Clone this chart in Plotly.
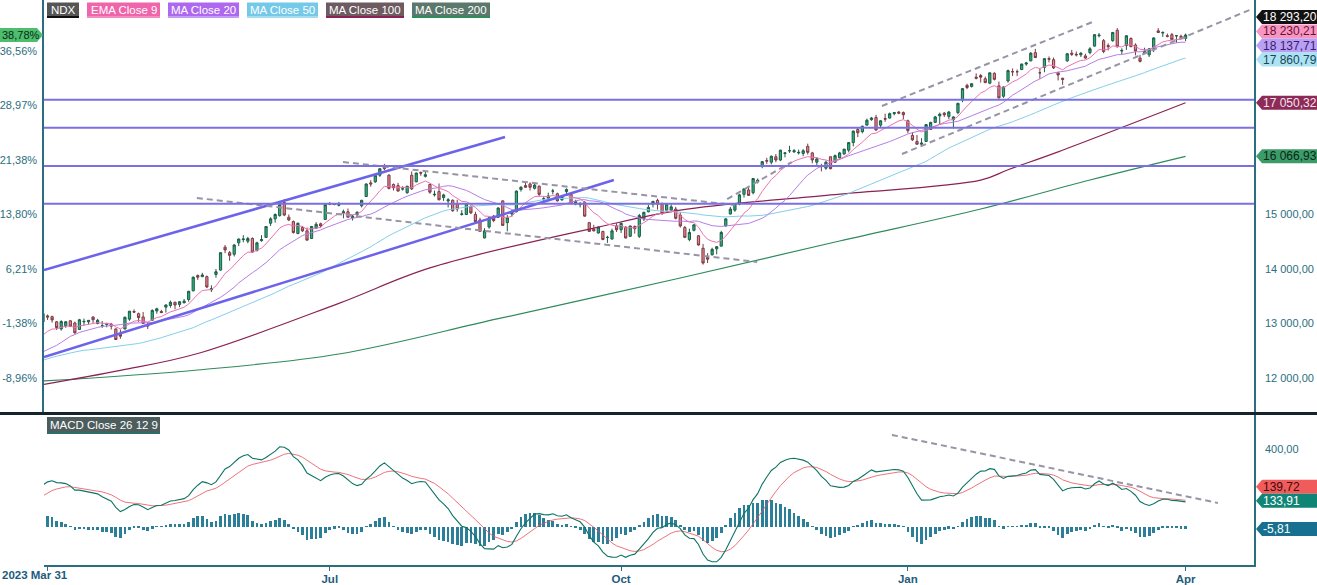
import numpy as np
import pandas as pd
import plotly.graph_objects as go

# NDX daily candles as shown (2023-03-31 .. 2024-04-01)
opens = [
    13030,
    13140, 13126, 13030, 12900, 12960, 13050, 13010, 12890, 13030, 13030, 13120, 13000, 12960, 12980, 12990, 12900, 12800, 12900, 13080,
    13220, 13180, 13120, 12980, 13060, 13230, 13220, 13300, 13330, 13390, 13350, 13380, 13440, 13600, 13880, 13860, 13860, 13620, 13900, 13980, 14400, 14300,
    14270, 14480, 14540, 14510, 14560, 14340, 14520, 14580, 14840, 14920, 14980, 15220, 14950, 14870, 14650, 14760, 14700, 14560, 14750, 14830, 14910,
    15200, 15190, 15170, 15030, 15050, 14940, 15000, 15160, 15330, 15580, 15600, 15720, 15880, 15720, 15550, 15530, 15470, 15400, 15720, 15600, 15770,
    15700, 15550, 15360, 15420, 15310, 15250, 15260, 15190, 15000, 15000, 15150, 15000, 14900, 14570, 14770, 14970, 14950, 15250, 14850, 15010, 15050, 15460, 15530,
    15560, 15480, 15520, 15280, 15300, 15430, 15380, 15270, 15420, 15370, 15190, 15180, 15220, 14850, 14730, 14660, 14690, 14580, 14550, 14790,
    14720, 14770, 14600, 14780, 14600, 14920, 15050, 15190, 15260, 15200, 15080, 15080, 15100, 14990, 14760, 14540, 14710, 14610, 14380, 14210, 14260, 14370,
    14420, 14790, 15010, 15080, 15190, 15370, 15450, 15400, 15600, 15880, 15990, 15960, 16060, 16000, 16120, 16170, 16150, 16130, 16120, 16250, 16130,
    15960, 15880, 15850, 16060, 15960, 16040, 16110, 16180, 16320, 16560, 16520, 16640, 16740, 16780, 16640, 16760, 16770, 16850, 16880, 16870,
    16720, 16450, 16340, 16290, 16340, 16560, 16690, 16810, 16860, 16800, 16740, 16870, 17100, 17370, 17350, 17520, 17550, 17490, 17410, 17590, 17360,
    17170, 17450, 17620, 17620, 17660, 17760, 17820, 17970, 17600, 17700, 17860, 17840, 17600, 17500, 17820, 17960, 17940, 17930, 17910, 17970,
    18090, 18280, 18190, 18100, 18190, 18380, 18000, 18100, 18230, 18110, 17870, 17960, 17930, 18040, 18370, 18330, 18280, 18300, 18280, 18270,
    18230,
]
highs = [
    13211,
    13165, 13144, 13045, 13060, 13040, 13060, 13035, 13085, 13090, 13065, 13130, 13085, 13045, 13010, 13010, 12910, 12890, 13130, 13230,
    13260, 13200, 13210, 13020, 13260, 13290, 13250, 13350, 13420, 13400, 13410, 13450, 13600, 13860, 13900, 13930, 13880, 13700, 14000, 14300, 14440, 14330,
    14460, 14560, 14620, 14590, 14580, 14500, 14620, 14780, 14950, 15020, 15200, 15280, 15000, 14890, 14850, 14790, 14760, 14790, 14860, 14850, 15200,
    15230, 15210, 15230, 15090, 15110, 14990, 15060, 15270, 15570, 15630, 15720, 15850, 15930, 15740, 15570, 15580, 15520, 15520, 15790, 15770, 15790,
    15780, 15560, 15440, 15570, 15380, 15300, 15280, 15270, 15080, 15210, 15170, 15050, 14940, 14750, 14960, 14990, 15130, 15260, 14990, 15080, 15440, 15520, 15590,
    15590, 15560, 15530, 15330, 15400, 15470, 15400, 15340, 15480, 15380, 15270, 15230, 15250, 14860, 14810, 14780, 14700, 14610, 14740, 14840,
    14850, 14780, 14790, 14800, 15010, 15050, 15180, 15250, 15290, 15220, 15200, 15200, 15140, 15040, 14790, 14740, 14820, 14620, 14460, 14290, 14390, 14420,
    14700, 14930, 15140, 15210, 15380, 15480, 15510, 15660, 15660, 15980, 16040, 16080, 16110, 16190, 16140, 16260, 16200, 16190, 16200, 16300, 16150,
    16050, 15930, 15990, 16060, 16100, 16150, 16200, 16330, 16540, 16600, 16630, 16760, 16790, 16830, 16730, 16850, 16870, 16880, 16900, 16890,
    16740, 16510, 16460, 16400, 16660, 16700, 16810, 16870, 16880, 16900, 16800, 17050, 17320, 17400, 17410, 17590, 17580, 17530, 17600, 17610, 17440,
    17350, 17660, 17680, 17660, 17770, 17800, 17980, 18040, 17680, 17860, 17900, 17880, 17620, 17510, 17960, 18020, 17990, 17980, 17950, 18070,
    18310, 18330, 18220, 18140, 18350, 18420, 18050, 18290, 18250, 18140, 17930, 18060, 18050, 18250, 18420, 18360, 18320, 18330, 18290, 18300,
    18320,
]
lows = [
    13010,
    13065, 13016, 12880, 12870, 12920, 12940, 12810, 12880, 12960, 12980, 13010, 12985, 12920, 12930, 12890, 12700, 12720, 12890, 13050,
    13190, 13030, 12990, 12900, 13050, 13180, 13190, 13200, 13290, 13260, 13300, 13370, 13400, 13590, 13800, 13850, 13650, 13580, 13840, 13970, 14290, 14150,
    14230, 14420, 14490, 14470, 14300, 14320, 14500, 14570, 14790, 14850, 14960, 14970, 14880, 14650, 14640, 14680, 14520, 14550, 14740, 14760, 14900,
    15170, 15170, 15150, 14930, 14950, 14890, 14950, 15130, 15320, 15510, 15580, 15690, 15810, 15460, 15440, 15420, 15440, 15380, 15450, 15590, 15710,
    15680, 15380, 15330, 15260, 15250, 15130, 15050, 15050, 14980, 14990, 15010, 14860, 14680, 14560, 14740, 14860, 14940, 14800, 14690, 14960, 15040, 15420, 15490,
    15440, 15460, 15330, 15230, 15290, 15370, 15240, 15250, 15360, 15190, 15170, 15130, 14960, 14690, 14690, 14650, 14530, 14480, 14540, 14680,
    14660, 14560, 14590, 14650, 14570, 14880, 15040, 15130, 15090, 14990, 15080, 15040, 14910, 14760, 14580, 14510, 14690, 14430, 14080, 14110, 14250, 14270,
    14410, 14780, 15000, 15050, 15170, 15310, 15340, 15370, 15570, 15850, 15930, 15920, 15960, 15980, 16050, 16130, 16130, 16100, 16070, 16100, 15940,
    15890, 15790, 15820, 15830, 15950, 16030, 16100, 16140, 16250, 16420, 16490, 16640, 16720, 16540, 16600, 16700, 16760, 16820, 16840, 16750,
    16490, 16350, 16280, 16240, 16330, 16550, 16680, 16650, 16790, 16750, 16580, 16840, 17060, 17300, 17330, 17480, 17420, 17410, 17390, 17460, 17130,
    17140, 17420, 17540, 17540, 17650, 17730, 17810, 17870, 17490, 17610, 17790, 17670, 17460, 17380, 17800, 17910, 17900, 17890, 17860, 17940,
    18080, 18250, 17960, 18010, 18170, 18060, 17940, 18020, 18070, 17920, 17790, 17950, 17890, 17980, 18330, 18260, 18250, 18210, 18150, 18240,
    18180,
]
closes = [
    13181,
    13117, 13066, 12925, 13036, 13032, 12950, 12830, 13069, 13038, 13057, 13069, 13058, 12961, 13003, 12951, 12706, 12766, 13113, 13226,
    13210, 13108, 13000, 12952, 13240, 13270, 13200, 13340, 13390, 13340, 13400, 13410, 13590, 13850, 13850, 13890, 13670, 13640, 13950, 14300, 14350, 14250,
    14440, 14550, 14550, 14560, 14310, 14480, 14540, 14780, 14920, 15000, 15180, 14990, 14900, 14670, 14840, 14700, 14530, 14780, 14820, 14790, 15180,
    15190, 15185, 15180, 15050, 14950, 14970, 15040, 15260, 15560, 15560, 15720, 15840, 15840, 15480, 15490, 15430, 15470, 15520, 15470, 15760, 15760,
    15730, 15410, 15370, 15270, 15360, 15270, 15070, 15100, 15010, 15200, 15030, 14870, 14690, 14700, 14940, 14890, 15120, 14800, 14940, 15050, 15430, 15500, 15500,
    15500, 15540, 15370, 15290, 15340, 15430, 15250, 15330, 15460, 15200, 15240, 15200, 14970, 14690, 14700, 14770, 14540, 14580, 14700, 14720,
    14840, 14570, 14790, 14740, 14980, 15040, 15130, 15240, 15190, 15020, 15190, 15140, 14930, 14790, 14580, 14670, 14810, 14440, 14110, 14180, 14360, 14410,
    14670, 14920, 15100, 15200, 15360, 15470, 15350, 15660, 15630, 15970, 15980, 16070, 16000, 16180, 16130, 16170, 16170, 16140, 16170, 16140, 16000,
    16020, 15880, 15960, 15840, 16080, 16130, 16200, 16320, 16530, 16500, 16620, 16730, 16770, 16550, 16720, 16750, 16850, 16870, 16860, 16830,
    16540, 16370, 16290, 16310, 16650, 16690, 16790, 16840, 16830, 16880, 16790, 17040, 17310, 17330, 17400, 17500, 17520, 17420, 17600, 17480, 17140,
    17340, 17640, 17620, 17620, 17760, 17780, 17960, 17880, 17600, 17860, 17850, 17690, 17560, 17480, 17950, 17940, 17930, 17960, 17870, 18040,
    18300, 18290, 17990, 18080, 18340, 18080, 18010, 18280, 18080, 18000, 17810, 17990, 18040, 18240, 18340, 18340, 18270, 18210, 18280, 18250,
    18293.2,
]
# closes before the window (Jan-Mar 2023), only used to warm up EMA / MA / MACD
warmup_closes = [
    10862, 10915, 10742, 11040, 11108, 11177, 11382, 11459, 11541, 11556, 11411, 11300, 11620, 11900, 11870, 11840, 12070, 12166, 11913, 12102,
    12355, 12803, 12574, 12440, 12680, 12463, 12322, 12305, 12467, 12565, 12655, 12430, 12358, 12060, 12060, 12178, 11976, 12043, 12042,
    11980, 12070, 12333, 12345, 12163, 12226, 11990, 11830, 11916, 12186, 12262, 12583, 12520, 12556, 12748, 12580, 12767, 12768, 12663, 12570, 12822, 12952,
]

# long moving averages (bar index, value)
ma100_pos = [0, 17, 34, 65, 85, 122, 140, 173, 206, 212, 223, 251]
ma100_vals = [11880, 12140, 12450, 13370, 14020, 14770, 15080, 15360, 15630, 15820, 16150, 17050.32]
ma200_pos = [0, 34, 65, 100, 140, 175, 206, 230, 251]
ma200_vals = [11945, 12147, 12440, 13088, 13835, 14514, 15101, 15633, 16066.93]

# last values printed in the price tags on the right
last_close, last_ema9, last_ma20, last_ma50 = 18293.20, 18230.21, 18137.71, 17860.79
last_ma100, last_ma200 = 17050.32, 16066.93
last_signal, last_macd, last_hist = 139.72, 133.91, -5.81

# drawn levels and trend lines (bar index, price)
hlines = [17105, 16590, 15890, 15195]
blue_lines = [[(0.22, 13982), (101.5, 16422)], [(0.22, 12385), (125.4, 15633)]]
dash_lines = [
    [(65.9, 15963), (152.0, 15174)],
    [(33.8, 15303), (156.9, 14128)],
    [(150.3, 15284), (164.5, 15963)],
    [(184.3, 16991), (231.1, 18550)],
    [(188.7, 16110), (265.6, 18771)],
]
macd_dash = [(186.5, 472), (258.1, 123)]

tick_pos = [63, 127, 190, 251]
tick_text = ["Jul", "Oct", "Jan", "Apr"]
first_label = "2023 Mar 31"
pct_base = 13181.5

n = len(closes)
assert len(opens) == n and len(highs) == n and len(lows) == n, (len(opens), len(highs), len(lows), n)
idx = np.arange(n)

s = pd.Series(warmup_closes + closes, dtype=float)
w = len(warmup_closes)
ema9 = s.ewm(span=9, adjust=False).mean().iloc[w:].values
ma20 = s.rolling(20).mean().iloc[w:].values
ma50 = s.rolling(50).mean().iloc[w:].values
macd_all = s.ewm(span=12, adjust=False).mean() - s.ewm(span=26, adjust=False).mean()
sig_all = macd_all.ewm(span=9, adjust=False).mean()
macd = macd_all.iloc[w:].values
signal = sig_all.iloc[w:].values
hist = macd - signal

TEAL = "#2b6e80"
FONT = "Arial, Liberation Sans, sans-serif"
W, H = 1317, 585
ML, MR, MT, MB = 44, 63, 0, 20
PW, PH = W - ML - MR, H - MT - MB

def px_x(p):
    return (p - ML) / PW

def px_y(p):
    return 1 - (p - MT) / PH

fig = go.Figure()

fig.add_trace(go.Candlestick(
    x=idx, open=opens, high=highs, low=lows, close=closes,
    increasing=dict(fillcolor="#2bb27c", line=dict(color="#1f5c47", width=1)),
    decreasing=dict(fillcolor="#e5848c", line=dict(color="#7a3a44", width=1)),
    whiskerwidth=0, showlegend=False, hoverinfo="skip",
))

fig.add_trace(go.Scatter(x=ma200_pos, y=ma200_vals, mode="lines", line=dict(color="#2f8a5c", width=1.2, shape="spline"), hoverinfo="skip"))
fig.add_trace(go.Scatter(x=ma100_pos, y=ma100_vals, mode="lines", line=dict(color="#8b2254", width=1.2, shape="spline"), hoverinfo="skip"))
fig.add_trace(go.Scatter(x=idx, y=ma50, mode="lines", line=dict(color="#84cfea", width=1), hoverinfo="skip"))
fig.add_trace(go.Scatter(x=idx, y=ma20, mode="lines", line=dict(color="#b77de8", width=1), hoverinfo="skip"))
fig.add_trace(go.Scatter(x=idx, y=ema9, mode="lines", line=dict(color="#ee72b2", width=1), hoverinfo="skip"))

for seg in blue_lines:
    fig.add_trace(go.Scatter(x=[p[0] for p in seg], y=[p[1] for p in seg], mode="lines",
                             line=dict(color="#6c63ea", width=2.5), hoverinfo="skip"))
for seg in dash_lines:
    fig.add_trace(go.Scatter(x=[p[0] for p in seg], y=[p[1] for p in seg], mode="lines",
                             line=dict(color="#9893a6", width=2, dash="6px,4px"), hoverinfo="skip"))

# invisible trace so the left % axis is drawn
fig.add_trace(go.Scatter(x=[None], y=[None], yaxis="y3", showlegend=False, hoverinfo="skip"))

# MACD pane
fig.add_trace(go.Bar(x=idx, y=hist, width=0.6, marker=dict(color="#2c7f98", line=dict(width=0)),
                     xaxis="x2", yaxis="y2", hoverinfo="skip"))
fig.add_trace(go.Scatter(x=idx, y=signal, mode="lines", line=dict(color="#e6505a", width=0.8),
                         xaxis="x2", yaxis="y2", hoverinfo="skip"))
fig.add_trace(go.Scatter(x=idx, y=macd, mode="lines", line=dict(color="#0d7464", width=1.1),
                         xaxis="x2", yaxis="y2", hoverinfo="skip"))
fig.add_trace(go.Scatter(x=[p[0] for p in macd_dash], y=[p[1] for p in macd_dash], mode="lines",
                         line=dict(color="#9893a6", width=2, dash="6px,4px"),
                         xaxis="x2", yaxis="y2", hoverinfo="skip"))

shapes = []
for v in hlines:
    shapes.append(dict(type="line", xref="paper", x0=0, x1=1, yref="y", y0=v, y1=v,
                       line=dict(color="#7a70e0", width=2)))
# pane separator
shapes.append(dict(type="line", xref="paper", x0=-ML / PW, x1=1 + MR / PW, yref="paper",
                   y0=px_y(413.5), y1=px_y(413.5), line=dict(color="#16252d", width=3)))

annotations = []

# legend chips at the top
chips = [
    ("NDX", 47, 79, "#555555", "#111111"),
    ("EMA Close 9", 87, 160, "#f064aa", "#f38cc0"),
    ("MA Close 20", 168, 239, "#ad68ef", "#c69af5"),
    ("MA Close 50", 247, 318, "#74c9e8", "#a5dcf0"),
    ("MA Close 100", 326, 404, "#6d5b61", "#8b2254"),
    ("MA Close 200", 412, 490, "#5b786c", "#2f8a5c"),
]
for text, x0, x1, bg, ul in chips:
    shapes.append(dict(type="rect", xref="paper", yref="paper", x0=px_x(x0), x1=px_x(x1),
                       y0=px_y(17), y1=px_y(2.5), fillcolor=bg, line=dict(width=0)))
    shapes.append(dict(type="rect", xref="paper", yref="paper", x0=px_x(x0), x1=px_x(x1),
                       y0=px_y(18), y1=px_y(16), fillcolor=ul, line=dict(width=0)))
    annotations.append(dict(text=text, xref="paper", yref="paper", x=px_x((x0 + x1) / 2), y=px_y(10),
                            xanchor="center", yanchor="middle", showarrow=False,
                            font=dict(family=FONT, size=11.5, color="white")))
# MACD chip
shapes.append(dict(type="rect", xref="paper", yref="paper", x0=px_x(47), x1=px_x(160),
                   y0=px_y(433), y1=px_y(417), fillcolor="#4d5d5e", line=dict(width=0)))
shapes.append(dict(type="rect", xref="paper", yref="paper", x0=px_x(47), x1=px_x(160),
                   y0=px_y(434), y1=px_y(432), fillcolor="#2d6e6a", line=dict(width=0)))
annotations.append(dict(text="MACD Close 26 12 9", xref="paper", yref="paper", x=px_x(103.5), y=px_y(425),
                        xanchor="center", yanchor="middle", showarrow=False,
                        font=dict(family=FONT, size=11.5, color="white")))

# value badges on the right (value, axis, vertical shift px, bg, text colour)
def fmt(v):
    return f"{v:,.2f}".replace(",", " ").replace(".", ",")

badges = [
    (last_close, "y", 18, "#111111", "#ffffff"),
    (last_ema9, "y", 7, "#f696c2", "#6e0f30"),
    (last_ma20, "y", -2, "#b9a0f4", "#3a1c6e"),
    (last_ma50, "y", -1, "#abe2f4", "#1a4756"),
    (last_ma100, "y", 0, "#8d2a57", "#f4e4ec"),
    (last_ma200, "y", 0, "#3b9c69", "#0b2616"),
    (last_signal, "y2", 13, "#f25b5b", "#3a0808"),
    (last_macd, "y2", 0, "#0f8576", "#ffffff"),
    (last_hist, "y2", -1, "#17708f", "#ffffff"),
]
for v, yr, sh, bg, fc in badges:
    shapes.append(dict(type="path", xref="paper", xsizemode="pixel", xanchor=1,
                       yref=yr, ysizemode="pixel", yanchor=float(v),
                       path=f"M 2,{sh} L 8,{sh + 7} L 66,{sh + 7} L 66,{sh - 7} L 8,{sh - 7} Z",
                       fillcolor=bg, line=dict(width=0)))
    annotations.append(dict(text=fmt(v), xref="paper", x=1, xanchor="left", xshift=7,
                            yref=yr, y=float(v), yshift=sh, yanchor="middle", showarrow=False,
                            font=dict(family=FONT, size=12, color=fc)))

# left % badge
pct_last = (last_close / pct_base - 1) * 100
shapes.append(dict(type="path", xref="paper", xsizemode="pixel", xanchor=0,
                   yref="y", ysizemode="pixel", yanchor=last_close,
                   path="M -46,7 L -7,7 L -1,0 L -7,-7 L -46,-7 Z",
                   fillcolor="#4dbd6e", line=dict(width=0)))
annotations.append(dict(text=f"{pct_last:.2f}%".replace(".", ","), xref="paper", x=0, xanchor="left",
                        xshift=-ML, yref="y", y=last_close, yanchor="middle", showarrow=False,
                        font=dict(family=FONT, size=11, color="#0c2a16")))

# first date label sits left of its tick
annotations.append(dict(text=f"<b>{first_label}</b>", xref="paper", x=0, xanchor="left", xshift=-ML,
                        yref="paper", y=0, yanchor="top", yshift=-2, showarrow=False,
                        font=dict(family=FONT, size=11.5, color="#1d5c7c")))

price_ticks = [12000, 13000, 14000, 15000]
pct_ticks_src = [12000, 13000, 14000, 15000, 16000, 17000, 18000]
pct_vals = [(v / pct_base - 1) * 100 for v in pct_ticks_src]
pct_text = [f"{p:.2f}%".replace(".", ",") for p in pct_vals]

y_lo, y_hi = 11376, 18936
x_range = [(ML - 43) / 4.552, (W - MR - 43) / 4.552]

fig.update_layout(
    width=W, height=H, margin=dict(l=ML, r=MR, t=MT, b=MB, autoexpand=False),
    paper_bgcolor="white", plot_bgcolor="white", showlegend=False,
    separators=", ", bargap=0,
    font=dict(family=FONT, size=11, color=TEAL),
    shapes=shapes, annotations=annotations,
    xaxis=dict(domain=[0, 1], anchor="y", range=x_range, showticklabels=False, showgrid=False,
               zeroline=False, showline=False, rangeslider=dict(visible=False), fixedrange=True,
               automargin=False),
    xaxis2=dict(domain=[0, 1], anchor="y2", matches="x", range=x_range, showgrid=False, zeroline=False,
                showline=True, linecolor=TEAL, linewidth=1.5, automargin=False,
                tickmode="array", tickvals=[0.9] + tick_pos, ticktext=[""] + [f"<b>{t}</b>" for t in tick_text],
                ticks="outside", ticklen=4, tickcolor=TEAL, ticklabelstandoff=-2,
                tickfont=dict(family=FONT, size=11.5, color="#1d5c7c")),
    yaxis=dict(domain=[px_y(412), 1], anchor="x", side="right", range=[y_lo, y_hi],
               tickmode="array", tickvals=price_ticks, tickformat=",.2f", automargin=False,
               showgrid=False, zeroline=False, showline=True, linecolor=TEAL, linewidth=1.5,
               ticks="outside", ticklen=7, tickcolor="rgba(0,0,0,0)",
               tickfont=dict(family=FONT, size=11, color=TEAL)),
    yaxis3=dict(overlaying="y", side="left", anchor="x", automargin=False,
                range=[(y_lo / pct_base - 1) * 100, (y_hi / pct_base - 1) * 100],
                tickmode="array", tickvals=pct_vals, ticktext=pct_text,
                showgrid=False, zeroline=False, showline=True, linecolor=TEAL, linewidth=1.5,
                ticks="outside", ticklen=3, tickcolor="rgba(0,0,0,0)",
                tickfont=dict(family=FONT, size=11, color=TEAL)),
    yaxis2=dict(domain=[0, px_y(415)], anchor="x2", side="right", range=[-195, 574],
                tickmode="array", tickvals=[400], tickformat=",.2f", automargin=False,
                showgrid=False, zeroline=False, showline=True, linecolor=TEAL, linewidth=1.5,
                ticks="outside", ticklen=7, tickcolor="rgba(0,0,0,0)",
                tickfont=dict(family=FONT, size=11, color=TEAL)),
)

# no page margin and no mode bar, so the figure sits alone at the window's top-left corner
fig.write_html("out.html", config={"displayModeBar": False},
               post_script="document.body.style.margin='0';")
